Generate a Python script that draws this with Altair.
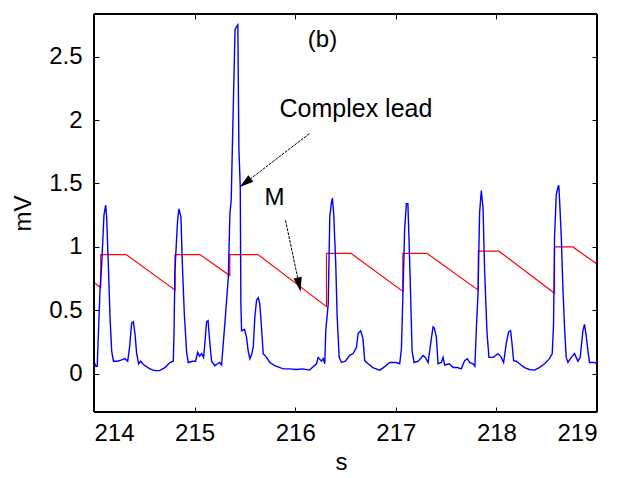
import altair as alt
import pandas as pd
import numpy as np

# ---- axis settings ----
x_domain = [214, 219]
y_domain = [-0.3, 2.835]
x_ticks = [214, 215, 216, 217, 218, 219]
y_ticks = [0, 0.5, 1, 1.5, 2, 2.5]

# ---- blue trace: complex lead (s, mV) ----
blue_t = [214.000, 214.017, 214.032, 214.044, 214.060, 214.076, 214.099, 214.116, 214.126, 214.143,
          214.159, 214.176, 214.193, 214.235, 214.275, 214.308, 214.335, 214.355, 214.374, 214.391,
          214.407, 214.424, 214.444, 214.464, 214.484, 214.506, 214.556, 214.603, 214.652, 214.705,
          214.755, 214.788, 214.796, 214.804, 214.831, 214.844, 214.864, 214.878, 214.898, 214.921,
          214.937, 214.980, 215.010, 215.030, 215.050, 215.070, 215.089, 215.102, 215.119, 215.134,
          215.152, 215.169, 215.202, 215.228, 215.248, 215.268, 215.301, 215.335, 215.351, 215.364,
          215.380, 215.402, 215.412, 215.430, 215.440, 215.454, 215.460, 215.467, 215.497, 215.516,
          215.533, 215.549, 215.566, 215.583, 215.599, 215.616, 215.633, 215.648, 215.665, 215.682,
          215.715, 215.748, 215.797, 215.881, 215.943, 216.013, 216.073, 216.142, 216.212, 216.228,
          216.261, 216.278, 216.294, 216.304, 216.328, 216.344, 216.360, 216.370, 216.383, 216.403,
          216.417, 216.437, 216.460, 216.499, 216.539, 216.576, 216.609, 216.626, 216.651, 216.673,
          216.691, 216.725, 216.771, 216.840, 216.877, 216.939, 217.006, 217.039, 217.056, 217.072,
          217.088, 217.105, 217.120, 217.132, 217.148, 217.162, 217.182, 217.224, 217.271, 217.294,
          217.321, 217.347, 217.370, 217.383, 217.403, 217.420, 217.453, 217.470, 217.486, 217.532,
          217.569, 217.612, 217.651, 217.684, 217.711, 217.734, 217.768, 217.786, 217.800, 217.817,
          217.833, 217.850, 217.867, 217.883, 217.907, 217.926, 217.969, 218.016, 218.049, 218.072,
          218.098, 218.121, 218.141, 218.155, 218.171, 218.198, 218.230, 218.280, 218.327, 218.379,
          218.426, 218.479, 218.528, 218.555, 218.568, 218.578, 218.595, 218.612, 218.620, 218.628,
          218.645, 218.661, 218.677, 218.694, 218.711, 218.744, 218.777, 218.810, 218.833, 218.860,
          218.876, 218.893, 218.910, 218.926, 218.975, 219.000]
blue_v = [0.10, 0.06, 0.06, 0.32, 0.67, 0.85, 1.25, 1.33, 1.23, 0.85,
          0.45, 0.18, 0.10, 0.10, 0.11, 0.12, 0.10, 0.22, 0.40, 0.41,
          0.32, 0.16, 0.08, 0.10, 0.08, 0.065, 0.04, 0.026, 0.026, 0.05,
          0.09, 0.10, 0.34, 0.81, 1.21, 1.30, 1.24, 0.87, 0.47, 0.17,
          0.09, 0.10, 0.10, 0.17, 0.14, 0.16, 0.13, 0.24, 0.41, 0.42,
          0.24, 0.10, 0.065, 0.08, 0.09, 0.07, 0.40, 0.76, 1.26, 1.37,
          1.95, 2.71, 2.73, 2.75, 1.78, 1.47, 0.55, 0.34, 0.35, 0.29,
          0.18, 0.12, 0.15, 0.21, 0.45, 0.58, 0.60, 0.55, 0.37, 0.16,
          0.13, 0.09, 0.066, 0.04, 0.04, 0.035, 0.04, 0.03, 0.08, 0.13,
          0.10, 0.12, 0.08, 0.34, 0.55, 1.24, 1.35, 1.385, 1.26, 0.87,
          0.45, 0.13, 0.09, 0.10, 0.145, 0.16, 0.21, 0.32, 0.34, 0.28,
          0.105, 0.08, 0.05, 0.03, 0.05, 0.09, 0.09, 0.08, 0.20, 0.66,
          1.14, 1.34, 1.34, 1.05, 0.60, 0.18, 0.09, 0.10, 0.145, 0.13,
          0.09, 0.24, 0.37, 0.36, 0.29, 0.08, 0.09, 0.13, 0.07, 0.08,
          0.05, 0.05, 0.04, 0.105, 0.12, 0.09, 0.08, 0.06, 0.34, 0.63,
          1.27, 1.445, 1.31, 0.81, 0.32, 0.13, 0.13, 0.16, 0.13, 0.09,
          0.24, 0.33, 0.34, 0.24, 0.105, 0.10, 0.08, 0.05, 0.035, 0.03,
          0.05, 0.08, 0.12, 0.16, 0.39, 1.08, 1.41, 1.47, 1.485, 1.37,
          1.08, 0.68, 0.37, 0.13, 0.09, 0.13, 0.16, 0.10, 0.13, 0.34,
          0.39, 0.30, 0.18, 0.09, 0.09, 0.08]

# ---- red trace: M (s, mV) ----
red_t = [214.000, 214.067, 214.067, 214.320, 214.806, 214.806, 215.053, 215.350, 215.350, 215.630,
         216.311, 216.311, 216.554, 217.070, 217.070, 217.309, 217.820, 217.820, 218.024, 218.578,
         218.578, 218.759, 219.000]
red_v = [0.72, 0.68, 0.94, 0.94, 0.66, 0.94, 0.94, 0.775, 0.94, 0.94,
         0.53, 0.95, 0.95, 0.65, 0.95, 0.95, 0.66, 0.967, 0.967, 0.635,
         1.0, 1.0, 0.865]

# ---- annotations ----
arrow_t1 = [216.142, 215.904]
arrow_v1 = [1.893, 1.209]
arrow_t2 = [215.449, 216.053]
arrow_v2 = [1.472, 0.651]

W, H = 503, 398
FONT = "Liberation Sans"

blue_df = pd.DataFrame({"t": blue_t, "v": blue_v, "i": range(len(blue_t))})
red_df = pd.DataFrame({"t": red_t, "v": red_v, "i": range(len(red_t))})

px_x = W / (x_domain[1] - x_domain[0])
px_y = H / (y_domain[1] - y_domain[0])
dx = (np.array(arrow_t2) - np.array(arrow_t1)) * px_x
dy = -(np.array(arrow_v2) - np.array(arrow_v1)) * px_y
angles = np.degrees(np.arctan2(dx, -dy)) % 360
arrow_df = pd.DataFrame({"t1": arrow_t1, "v1": arrow_v1, "t2": arrow_t2, "v2": arrow_v2,
                         "angle": angles})

# frame edges of the axes box, built from the domains
x0, x1 = x_domain
y0, y1 = y_domain
box_df = pd.DataFrame({"xa": [x0, x0, x0, x1], "xb": [x1, x1, x0, x1],
                       "ya": [y0, y1, y0, y0], "yb": [y0, y1, y1, y1]})

xs = alt.Scale(domain=x_domain, nice=False, zero=False)
ys = alt.Scale(domain=y_domain, nice=False, zero=False)

x_axis = alt.Axis(values=x_ticks, orient="bottom", offset=-5, tickSize=5, domain=False,
                  grid=False, labelPadding=9, title="s", titleX=247, titleY=62,
                  titleBaseline="alphabetic", titleAlign="center", format="d")
y_axis = alt.Axis(values=y_ticks, orient="left", offset=-5, tickSize=5, domain=False,
                  grid=False, labelPadding=12, title="mV", titlePadding=13, format="~g")

red = alt.Chart(red_df).mark_line(color="#ff0000", strokeWidth=1.2).encode(
    x=alt.X("t:Q", scale=xs, axis=x_axis),
    y=alt.Y("v:Q", scale=ys, axis=y_axis),
    order="i:Q",
)
blue = alt.Chart(blue_df).mark_line(color="#0000ff", strokeWidth=1.4).encode(
    x=alt.X("t:Q", scale=xs),
    y=alt.Y("v:Q", scale=ys),
    order="i:Q",
)

shafts = alt.Chart(arrow_df).mark_rule(color="black", strokeWidth=1, strokeDash=[3, 1]).encode(
    x=alt.X("t1:Q", scale=xs), y=alt.Y("v1:Q", scale=ys), x2="t2:Q", y2="v2:Q"
)
heads = alt.Chart(arrow_df).mark_point(
    shape="M0,0L-0.6,2L0.6,2Z", filled=True, color="black", opacity=1, size=196, strokeWidth=0
).encode(
    x=alt.X("t2:Q", scale=xs), y=alt.Y("v2:Q", scale=ys),
    angle=alt.Angle("angle:Q", scale=None),
)

lbl_b = pd.DataFrame({"t": [216.271], "v": [2.63], "txt": ["(b)"]})
lbl_c = pd.DataFrame({"t": [215.844], "v": [2.027], "txt": ["Complex lead"]})
lbl_m = pd.DataFrame({"t": [215.794], "v": [1.327], "txt": ["M"]})

txt_b = alt.Chart(lbl_b).mark_text(font=FONT, fontSize=24, align="center", baseline="middle",
                                   color="black").encode(
    x=alt.X("t:Q", scale=xs), y=alt.Y("v:Q", scale=ys), text="txt:N")
txt_c = alt.Chart(lbl_c).mark_text(font=FONT, fontSize=25, align="left", baseline="alphabetic",
                                   color="black").encode(
    x=alt.X("t:Q", scale=xs), y=alt.Y("v:Q", scale=ys), text="txt:N")
txt_m = alt.Chart(lbl_m).mark_text(font=FONT, fontSize=24, align="center", baseline="alphabetic",
                                   color="black").encode(
    x=alt.X("t:Q", scale=xs), y=alt.Y("v:Q", scale=ys), text="txt:N")

main = alt.layer(red, blue, shafts, heads, txt_b, txt_c, txt_m)

frame_x = alt.Scale(domain=x_domain, nice=False, zero=False)
frame_y = alt.Scale(domain=y_domain, nice=False, zero=False)
box = alt.Chart(box_df).mark_rule(color="#000000", strokeWidth=2, opacity=1).encode(
    x=alt.X("xa:Q", scale=frame_x,
            axis=alt.Axis(values=x_ticks, orient="top", offset=-5, tickSize=5, domain=False,
                          grid=False, labels=False, title=None)),
    x2="xb:Q",
    y=alt.Y("ya:Q", scale=frame_y,
            axis=alt.Axis(values=y_ticks, orient="right", offset=-5, tickSize=5, domain=False,
                          grid=False, labels=False, title=None)),
    y2="yb:Q",
)

chart = alt.layer(main, box).resolve_scale(x="independent", y="independent").properties(
    width=W, height=H,
    padding={"left": 86, "top": 6, "right": 10, "bottom": 64},
    autosize=alt.AutoSizeParams(type="none"),
).configure_view(strokeWidth=0).configure_axis(
    labelFont=FONT, labelFontSize=24, labelColor="black",
    titleFont=FONT, titleFontSize=24, titleFontWeight="normal", titleColor="black",
    tickColor="black", tickWidth=1,
)

chart.save("out.html", embed_options={"renderer": "svg", "actions": False})
